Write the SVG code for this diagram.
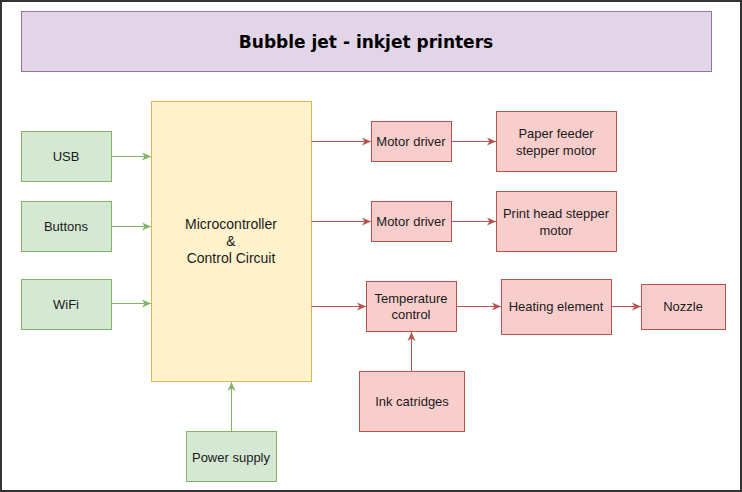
<svg xmlns="http://www.w3.org/2000/svg" width="742" height="492" viewBox="0 0 742 492">
<style>
text{font-family:"Liberation Sans",Arial,sans-serif;font-size:13px;fill:#1a1a1a;text-anchor:middle;dominant-baseline:central}
text.big{font-size:14px}
.g{fill:#d5e8d4;stroke:#82b366}
.r{fill:#f8cecc;stroke:#b85450}
.y{fill:#fff2cc;stroke:#d6b656}
.lg{stroke:#82b366;fill:none}
.lr{stroke:#b85450;fill:none}
</style>
<defs>
<marker id="ag" viewBox="0 0 10 10" refX="9" refY="5" markerWidth="10" markerHeight="10" markerUnits="userSpaceOnUse" orient="auto"><path d="M0,1 L9,5 L0,9 L2.5,5 Z" fill="#82b366"/></marker>
<marker id="ar" viewBox="0 0 10 10" refX="9" refY="5" markerWidth="10" markerHeight="10" markerUnits="userSpaceOnUse" orient="auto"><path d="M0,1 L9,5 L0,9 L2.5,5 Z" fill="#b85450"/></marker>
</defs>
<rect x="0" y="0" width="742" height="492" fill="#fff"/>
<rect x="1" y="1" width="740" height="490" fill="none" stroke="#333" stroke-width="2"/>
<g id="title"><rect x="21.5" y="11.5" width="690" height="60" fill="#e1d5e7" stroke="#9673a6"/><text x="366" y="42" style="font-family:'DejaVu Sans',Verdana,sans-serif;font-weight:bold;font-size:17px;fill:#000">Bubble jet - inkjet printers</text></g>
<g id="usb"><rect class="g" x="21.5" y="131.5" width="90" height="50"/><text x="66" y="156">USB</text></g>
<g id="buttons"><rect class="g" x="21.5" y="201.5" width="90" height="50"/><text x="66" y="226">Buttons</text></g>
<g id="wifi"><rect class="g" x="21.5" y="279.5" width="90" height="50"/><text x="66" y="304">WiFi</text></g>
<g id="mcu"><rect class="y" x="151.5" y="101.5" width="160" height="280"/><text class="big" x="231" y="224">Microcontroller</text><text class="big" x="231" y="241">&amp;</text><text class="big" x="231" y="258">Control Circuit</text></g>
<g id="power"><rect class="g" x="186.5" y="431.5" width="90" height="50"/><text x="231" y="457">Power supply</text></g>
<g id="md1"><rect class="r" x="371.5" y="121.5" width="80" height="40"/><text x="411" y="141">Motor driver</text></g>
<g id="md2"><rect class="r" x="371.5" y="201.5" width="80" height="40"/><text x="411" y="221">Motor driver</text></g>
<g id="paper"><rect class="r" x="496.5" y="111.5" width="120" height="60"/><text x="556" y="133">Paper feeder</text><text x="556" y="150">stepper motor</text></g>
<g id="printhead"><rect class="r" x="496.5" y="191.5" width="120" height="60"/><text x="556" y="213">Print head stepper</text><text x="556" y="230">motor</text></g>
<g id="temp"><rect class="r" x="366.5" y="281.5" width="90" height="50"/><text x="411" y="298">Temperature</text><text x="411" y="314">control</text></g>
<g id="heat"><rect class="r" x="501.5" y="279.5" width="110" height="55"/><text x="556" y="306">Heating element</text></g>
<g id="nozzle"><rect class="r" x="641.5" y="284.5" width="84" height="45"/><text x="683" y="306">Nozzle</text></g>
<g id="ink"><rect class="r" x="359.5" y="371.5" width="105" height="60"/><text x="412" y="401">Ink catridges</text></g>
<g id="connectors">
<path class="lg" d="M111.5,156.5 H151" marker-end="url(#ag)"/>
<path class="lg" d="M111.5,226.5 H151" marker-end="url(#ag)"/>
<path class="lg" d="M111.5,303.5 H151" marker-end="url(#ag)"/>
<path class="lg" d="M231.5,431.5 V382" marker-end="url(#ag)"/>
<path class="lr" d="M311.5,141.5 H371" marker-end="url(#ar)"/>
<path class="lr" d="M311.5,221.5 H371" marker-end="url(#ar)"/>
<path class="lr" d="M311.5,306.5 H366" marker-end="url(#ar)"/>
<path class="lr" d="M451.5,141.5 H496" marker-end="url(#ar)"/>
<path class="lr" d="M451.5,221.5 H496" marker-end="url(#ar)"/>
<path class="lr" d="M456.5,306.5 H501" marker-end="url(#ar)"/>
<path class="lr" d="M611.5,306.5 H641" marker-end="url(#ar)"/>
<path class="lr" d="M411.5,371.5 V332" marker-end="url(#ar)"/>
</g>
</svg>
